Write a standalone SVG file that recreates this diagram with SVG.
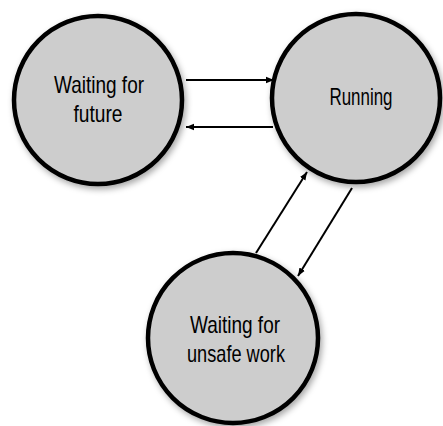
<svg xmlns="http://www.w3.org/2000/svg" width="443" height="426" viewBox="0 0 443 426">
<style>
.n{fill:#cdcdcd;stroke:#000;stroke-width:4.5;filter:url(#sh)}
.t{font-family:"Liberation Sans",Arial,sans-serif;font-size:24px;fill:#000;text-anchor:middle}
.c{stroke:#000;stroke-width:2;fill:none;marker-end:url(#ah)}
</style>
<defs>
<filter id="sh" x="-20%" y="-20%" width="140%" height="140%">
<feDropShadow dx="2" dy="3" stdDeviation="3" flood-color="#000" flood-opacity="0.35"/>
</filter>
<marker id="ah" viewBox="0 0 10 10" refX="10" refY="5" markerWidth="4" markerHeight="4" orient="auto" markerUnits="strokeWidth">
<path d="M0,1 L10,5 L0,9 z" fill="#000"/>
</marker>
</defs>
<g id="connectors">
<line class="c" x1="186" y1="80" x2="274" y2="80"/>
<line class="c" x1="273" y1="127" x2="186" y2="127"/>
<line class="c" x1="256" y1="253" x2="307" y2="172"/>
<line class="c" x1="352" y1="188" x2="298" y2="276"/>
</g>
<g id="waiting-future">
<circle class="n" cx="98" cy="100" r="84"/>
<text class="t" x="99" y="93" textLength="90" lengthAdjust="spacingAndGlyphs">Waiting for</text>
<text class="t" x="98" y="122" textLength="49" lengthAdjust="spacingAndGlyphs">future</text>
</g>
<g id="running">
<circle class="n" cx="356" cy="98" r="84"/>
<text class="t" x="361" y="105" textLength="63" lengthAdjust="spacingAndGlyphs">Running</text>
</g>
<g id="waiting-unsafe">
<circle class="n" cx="233" cy="338" r="85"/>
<text class="t" x="235" y="333" textLength="90" lengthAdjust="spacingAndGlyphs">Waiting for</text>
<text class="t" x="236" y="362" textLength="98" lengthAdjust="spacingAndGlyphs">unsafe work</text>
</g>
</svg>
